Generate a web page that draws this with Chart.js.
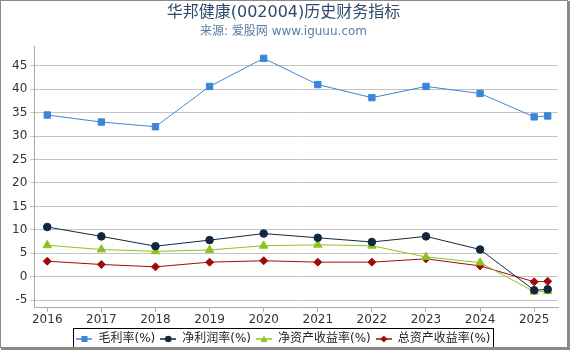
<!DOCTYPE html>
<html>
<head>
<meta charset="utf-8">
<script src="https://cdn.jsdelivr.net/npm/chart.js@4.4.1/dist/chart.umd.min.js"></script>
<style>
  html, body { margin: 0; padding: 0; background: #fff; }
</style>
</head>
<body>
<canvas id="finChart" width="570" height="350"></canvas>
<script>
// values
var years = [2016, 2017, 2018, 2019, 2020, 2021, 2022, 2023, 2024, 2025, 2025.25];
var grossMargin = [34.5, 33.0, 32.0, 40.6, 46.6, 41.0, 38.2, 40.6, 39.1, 34.1, 34.3];
var netMargin = [10.6, 8.6, 6.5, 7.8, 9.2, 8.3, 7.4, 8.6, 5.8, -2.9, -2.7];
var roe = [6.7, 5.8, 5.4, 5.7, 6.6, 6.8, 6.6, 4.2, 3.0, -3.2, -3.1];
var roa = [3.3, 2.6, 2.1, 3.1, 3.4, 3.1, 3.1, 3.8, 2.3, -1.1, -1.0];
var seriesNames = ["毛利率(%)", "净利润率(%)", "净资产收益率(%)", "总资产收益率(%)"];
var xTicks = [2016, 2017, 2018, 2019, 2020, 2021, 2022, 2023, 2024, 2025];
var yTicks = [-5, 0, 5, 10, 15, 20, 25, 30, 35, 40, 45];

var colors = ["#3b86d8", "#13263f", "#8cc220", "#a00a0a"];
var markers = ["rect", "circle", "triangle", "rectRot"];
var markerSize = [4.5, 3.8, 4.8, 4];

function toPoints(vals) {
    var pts = [];
    for (var i = 0; i < vals.length; i++) {
        pts.push({x: years[i], y: vals[i]});
    }
    return pts;
}

// little line + marker picture for the legend
function legendIcon(idx) {
    var c = document.createElement('canvas');
    c.width = 16;
    c.height = 10;
    var g = c.getContext('2d');
    g.strokeStyle = colors[idx];
    g.fillStyle = colors[idx];
    g.lineWidth = 1.5;
    g.beginPath();
    g.moveTo(0, 5);
    g.lineTo(16, 5);
    g.stroke();
    g.beginPath();
    if (idx === 0) {
        g.rect(5, 2, 6, 6);
    } else if (idx === 1) {
        g.arc(8, 5, 3.3, 0, Math.PI * 2);
    } else if (idx === 2) {
        g.moveTo(8, 1.5);
        g.lineTo(11.5, 8);
        g.lineTo(4.5, 8);
        g.closePath();
    } else {
        g.moveTo(8, 1.5);
        g.lineTo(11.5, 5);
        g.lineTo(8, 8.5);
        g.lineTo(4.5, 5);
        g.closePath();
    }
    g.fill();
    return c;
}

var allSeries = [grossMargin, netMargin, roe, roa];
var datasets = [];
for (var i = 0; i < allSeries.length; i++) {
    datasets.push({
        label: seriesNames[i],
        data: toPoints(allSeries[i]),
        borderColor: colors[i],
        backgroundColor: colors[i],
        borderWidth: 1,
        pointStyle: markers[i],
        pointRadius: markerSize[i],
        pointBorderWidth: 1,
        tension: 0
    });
}

// frame round the picture and box round the legend
var framePlugin = {
    id: 'frame',
    afterDraw: function(chart) {
        var ctx = chart.ctx;
        var lg = chart.legend;
        ctx.save();
        if (lg && lg.legendHitBoxes && lg.legendHitBoxes.length) {
            var l = Infinity, r = -Infinity, t = Infinity, b = -Infinity;
            lg.legendHitBoxes.forEach(function(h) {
                l = Math.min(l, h.left); r = Math.max(r, h.left + h.width);
                t = Math.min(t, h.top); b = Math.max(b, h.top + h.height);
            });
            ctx.strokeStyle = '#000';
            ctx.lineWidth = 1;
            ctx.strokeRect(Math.round(l - 3) + 0.5, Math.round(t - 5) + 0.5,
                           Math.round(r - l + 6), Math.round(b - t + 7));
        }
        ctx.strokeStyle = '#8a8a8a';
        ctx.lineWidth = 1;
        ctx.strokeRect(0.5, 0.5, chart.width - 3, chart.height - 3);
        ctx.lineWidth = 2;
        ctx.beginPath();
        ctx.moveTo(chart.width - 1, 1);
        ctx.lineTo(chart.width - 1, chart.height - 1);
        ctx.lineTo(1, chart.height - 1);
        ctx.stroke();
        ctx.restore();
    }
};

var ctx = document.getElementById("finChart").getContext('2d');
var chart = new Chart(ctx, {
    type: 'line',
    data: { datasets: datasets },
    plugins: [framePlugin],
    options: {
        responsive: false,
        animation: false,
        layout: { padding: { left: 9, right: 12, top: 2, bottom: -5 } },
        plugins: {
            title: {
                display: true,
                text: "华邦健康(002004)历史财务指标",
                color: '#2e4a68',
                font: { family: "DejaVu Sans, 'Noto Sans CJK SC'", size: 16, weight: 'normal' },
                padding: { top: 1, bottom: 2 }
            },
            subtitle: {
                display: true,
                text: "来源: 爱股网 www.iguuu.com",
                color: '#5a7ca3',
                font: { family: "DejaVu Sans, 'Noto Sans CJK SC'", size: 12 },
                padding: { bottom: 8 }
            },
            legend: {
                display: true,
                position: 'bottom',
                labels: {
                    color: '#222',
                    font: { family: "DejaVu Sans, 'Noto Sans CJK SC'", size: 12 },
                    usePointStyle: true,
                    pointStyleWidth: 16,
                    boxHeight: 10,
                    padding: 5,
                    generateLabels: function(ch) {
                        return ch.data.datasets.map(function(ds, k) {
                            return {
                                text: ds.label,
                                pointStyle: legendIcon(k),
                                fillStyle: colors[k],
                                strokeStyle: colors[k],
                                lineWidth: 0,
                                fontColor: '#222',
                                datasetIndex: k,
                                hidden: false
                            };
                        });
                    }
                }
            },
            tooltip: { enabled: false }
        },
        scales: {
            x: {
                type: 'linear',
                min: 2015.76,
                max: 2025.44,
                afterBuildTicks: function(scale) {
                    scale.ticks = xTicks.map(function(v) { return {value: v}; });
                },
                ticks: {
                    color: '#333',
                    font: { family: "DejaVu Sans", size: 12 },
                    padding: 1,
                    maxRotation: 0,
                    callback: function(v) { return String(v); }
                },
                grid: { drawOnChartArea: false, drawTicks: true, tickLength: 4, color: '#aaa' },
                border: { color: '#aaa' }
            },
            y: {
                type: 'linear',
                min: -6.6,
                max: 49.1,
                afterBuildTicks: function(scale) {
                    scale.ticks = yTicks.map(function(v) { return {value: v}; });
                },
                ticks: {
                    color: '#333',
                    font: { family: "DejaVu Sans", size: 12 },
                    padding: 3
                },
                grid: { color: '#c4c4c4', tickLength: 4 },
                border: { color: '#aaa' }
            }
        }
    }
});
</script>
</body>
</html>
